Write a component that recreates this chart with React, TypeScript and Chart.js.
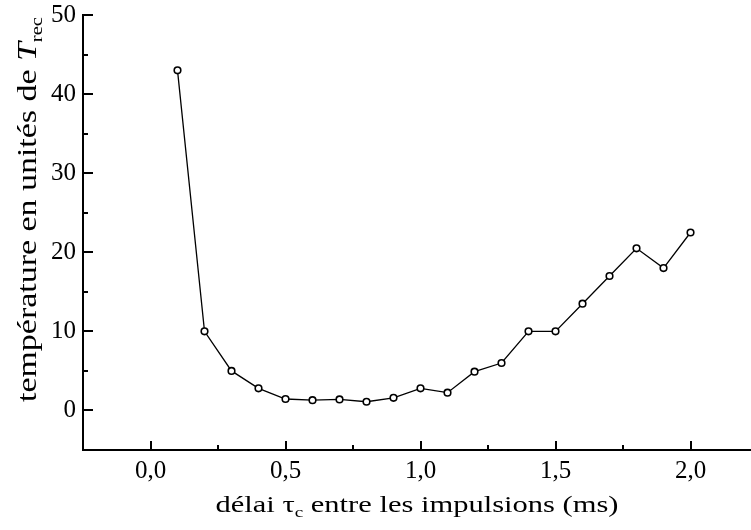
import React, { useEffect, useRef } from 'react';
import { Chart, registerables } from 'chart.js';

Chart.register(...registerables);

// Data
const delays = [0.1, 0.2, 0.3, 0.4, 0.5, 0.6, 0.7, 0.8, 0.9, 1.0, 1.1, 1.2, 1.3, 1.4, 1.5, 1.6, 1.7, 1.8, 1.9, 2.0];
const temperatures = [43, 10, 5, 2.8, 1.45, 1.3, 1.4, 1.1, 1.6, 2.8, 2.25, 4.9, 6, 10, 10, 13.5, 17, 20.5, 18, 22.5];

// Tick labels
const xTickValues = [0, 0.5, 1.0, 1.5, 2.0];
const xTickLabels = ['0,0', '0,5', '1,0', '1,5', '2,0'];
const yTickValues = [0, 10, 20, 30, 40, 50];
const yTickLabels = ['0', '10', '20', '30', '40', '50'];

// Axis titles (main text, subscript part)
const xTitleParts = ['délai τ', 'c', ' entre les impulsions (ms)'];
const yTitleParts = ['température en unités de ', 'T', 'rec'];

const FONT = 'Liberation Serif';

function findLabel(values: number[], labels: string[], v: number) {
  for (let i = 0; i < values.length; i++) {
    if (Math.abs(values[i] - v) < 1e-6) return labels[i];
  }
  return '';
}

type Part = { text: string; font: string; dy: number };

function drawParts(ctx: CanvasRenderingContext2D, parts: Part[], cx: number, targetWidth: number) {
  let natural = 0;
  for (const p of parts) {
    ctx.font = p.font;
    natural += ctx.measureText(p.text).width;
  }
  const sx = targetWidth / natural;
  ctx.save();
  ctx.translate(cx - targetWidth / 2, 0);
  ctx.scale(sx, 1);
  let x = 0;
  ctx.textBaseline = 'alphabetic';
  ctx.textAlign = 'left';
  for (const p of parts) {
    ctx.font = p.font;
    ctx.fillText(p.text, x, p.dy);
    x += ctx.measureText(p.text).width;
  }
  ctx.restore();
}

const decorPlugin = {
  id: 'decor',
  afterDraw(chart: any) {
    const { ctx, chartArea, scales } = chart;
    const xs = scales.x;
    const ys = scales.y;
    ctx.save();
    ctx.strokeStyle = '#000';
    ctx.lineWidth = 2;
    ctx.lineCap = 'butt';
    xs.ticks.forEach((t: any) => {
      const px = Math.round(xs.getPixelForValue(t.value));
      if (px <= chartArea.left + 1 || px >= chartArea.right) return;
      const major = findLabel(xTickValues, xTickLabels, t.value) !== '';
      const len = major ? 9 : 5;
      ctx.beginPath();
      ctx.moveTo(px, chartArea.bottom);
      ctx.lineTo(px, chartArea.bottom - len);
      ctx.stroke();
    });
    ys.ticks.forEach((t: any) => {
      const py = Math.round(ys.getPixelForValue(t.value));
      if (py >= chartArea.bottom - 1) return;
      const major = findLabel(yTickValues, yTickLabels, t.value) !== '';
      const len = major ? 10 : 5;
      ctx.beginPath();
      ctx.moveTo(chartArea.left, py);
      ctx.lineTo(chartArea.left + len, py);
      ctx.stroke();
    });

    ctx.fillStyle = '#000';
    ctx.save();
    ctx.translate(0, 512);
    drawParts(
      ctx,
      [
        { text: xTitleParts[0], font: `24px ${FONT}`, dy: 0 },
        { text: xTitleParts[1], font: `15px ${FONT}`, dy: 5 },
        { text: xTitleParts[2], font: `24px ${FONT}`, dy: 0 },
      ],
      417,
      403
    );
    ctx.restore();

    ctx.save();
    ctx.translate(36, 0);
    ctx.rotate(-Math.PI / 2);
    drawParts(
      ctx,
      [
        { text: yTitleParts[0], font: `28px ${FONT}`, dy: 0 },
        { text: yTitleParts[1], font: `italic 28px ${FONT}`, dy: 0 },
        { text: yTitleParts[2], font: `17px ${FONT}`, dy: 6 },
      ],
      -209.5,
      385
    );
    ctx.restore();

    ctx.restore();
  },
};

export default function App() {
  const canvasRef = useRef<HTMLCanvasElement>(null);

  useEffect(() => {
    const canvas = canvasRef.current;
    if (!canvas) return;
    const points = delays.map((d, i) => ({ x: d, y: temperatures[i] }));
    const chart = new Chart(canvas, {
      type: 'line',
      data: {
        datasets: [
          {
            data: points,
            borderColor: '#000',
            borderWidth: 1.3,
            pointRadius: 3.3,
            pointBorderWidth: 1.6,
            pointBackgroundColor: '#fff',
            pointBorderColor: '#000',
            tension: 0,
            fill: false,
          },
        ],
      },
      options: {
        responsive: false,
        animation: false,
        devicePixelRatio: 1,
        layout: { autoPadding: false, padding: { top: 15, right: 0, bottom: 0, left: 0 } },
        plugins: {
          legend: { display: false },
          tooltip: { enabled: false },
          title: { display: false },
        },
        scales: {
          x: {
            type: 'linear',
            bounds: 'data',
            min: -0.25,
            max: 2.224,
            afterFit: (s: any) => {
              s.height = 80;
              s.paddingLeft = 0;
              s.paddingRight = 0;
              s.paddingTop = 0;
              s.paddingBottom = 0;
            },
            grid: { display: false, drawTicks: false },
            border: { display: true, color: '#000', width: 2 },
            ticks: {
              stepSize: 0.25,
              includeBounds: false,
              autoSkip: false,
              maxRotation: 0,
              minRotation: 0,
              padding: 6,
              color: '#000',
              font: { family: FONT, size: 25 },
              callback: (v: any) => findLabel(xTickValues, xTickLabels, Number(v)),
            },
          },
          y: {
            type: 'linear',
            bounds: 'data',
            min: -5,
            max: 50,
            afterFit: (s: any) => {
              s.width = 83;
              s.paddingLeft = 0;
              s.paddingRight = 0;
              s.paddingTop = 0;
              s.paddingBottom = 0;
            },
            grid: { display: false, drawTicks: false },
            border: { display: true, color: '#000', width: 2 },
            ticks: {
              stepSize: 5,
              includeBounds: false,
              autoSkip: false,
              padding: 7,
              color: '#000',
              font: { family: FONT, size: 25 },
              callback: (v: any) => findLabel(yTickValues, yTickLabels, Number(v)),
            },
          },
        },
      },
      plugins: [decorPlugin],
    });
    return () => chart.destroy();
  }, []);

  return (
    <div style={{ position: 'absolute', left: 0, top: 0, width: 751, height: 530, background: '#fff' }}>
      <canvas ref={canvasRef} width={751} height={530} style={{ display: 'block' }} />
    </div>
  );
}
